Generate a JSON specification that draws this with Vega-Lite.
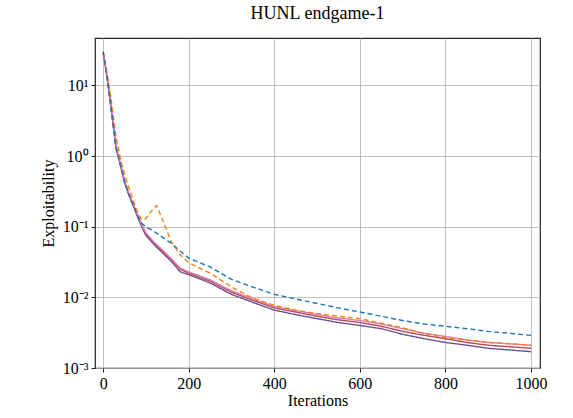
{
  "$schema": "https://vega.github.io/schema/vega-lite/v6.json",
  "width": 445,
  "height": 330,
  "padding": {"left": 40, "top": 5, "right": 5, "bottom": 5},
  "background": "white",
  "title": {"text": "HUNL endgame-1", "font": "Liberation Serif", "fontSize": 18, "fontWeight": "normal", "color": "#000", "offset": 15},
  "config": {
    "view": {"stroke": "#222", "strokeWidth": 1.2},
    "font": "Liberation Serif"
  },
  "datasets": {
    "d": [
      {"it":0,"s":"purple","v":30},{"it":10,"s":"purple","v":12},{"it":20,"s":"purple","v":4},{"it":30,"s":"purple","v":1.3},{"it":40,"s":"purple","v":0.75},{"it":50,"s":"purple","v":0.42},{"it":60,"s":"purple","v":0.28},{"it":70,"s":"purple","v":0.2},{"it":80,"s":"purple","v":0.14},{"it":90,"s":"purple","v":0.1},{"it":100,"s":"purple","v":0.075},{"it":120,"s":"purple","v":0.055},{"it":140,"s":"purple","v":0.042},{"it":160,"s":"purple","v":0.032},{"it":180,"s":"purple","v":0.023},{"it":200,"s":"purple","v":0.021},{"it":250,"s":"purple","v":0.016},{"it":300,"s":"purple","v":0.011},{"it":350,"s":"purple","v":0.0085},{"it":400,"s":"purple","v":0.0066},{"it":450,"s":"purple","v":0.0057},{"it":500,"s":"purple","v":0.005},{"it":550,"s":"purple","v":0.0044},{"it":600,"s":"purple","v":0.004},{"it":650,"s":"purple","v":0.0036},{"it":700,"s":"purple","v":0.003},{"it":750,"s":"purple","v":0.0026},{"it":800,"s":"purple","v":0.0023},{"it":850,"s":"purple","v":0.0021},{"it":900,"s":"purple","v":0.0019},{"it":950,"s":"purple","v":0.0018},{"it":1000,"s":"purple","v":0.0017},
      {"it":0,"s":"red","v":30},{"it":10,"s":"red","v":12.5},{"it":20,"s":"red","v":4.2},{"it":30,"s":"red","v":1.35},{"it":40,"s":"red","v":0.78},{"it":50,"s":"red","v":0.44},{"it":60,"s":"red","v":0.29},{"it":70,"s":"red","v":0.21},{"it":80,"s":"red","v":0.145},{"it":90,"s":"red","v":0.105},{"it":100,"s":"red","v":0.079},{"it":120,"s":"red","v":0.058},{"it":140,"s":"red","v":0.044},{"it":160,"s":"red","v":0.034},{"it":180,"s":"red","v":0.025},{"it":200,"s":"red","v":0.022},{"it":250,"s":"red","v":0.017},{"it":300,"s":"red","v":0.0118},{"it":350,"s":"red","v":0.0091},{"it":400,"s":"red","v":0.0071},{"it":450,"s":"red","v":0.0062},{"it":500,"s":"red","v":0.0054},{"it":550,"s":"red","v":0.0048},{"it":600,"s":"red","v":0.0044},{"it":650,"s":"red","v":0.0039},{"it":700,"s":"red","v":0.0033},{"it":750,"s":"red","v":0.0029},{"it":800,"s":"red","v":0.0026},{"it":850,"s":"red","v":0.0023},{"it":900,"s":"red","v":0.0021},{"it":950,"s":"red","v":0.002},{"it":1000,"s":"red","v":0.0019},
      {"it":0,"s":"pink","v":30},{"it":10,"s":"pink","v":12.8},{"it":20,"s":"pink","v":4.3},{"it":30,"s":"pink","v":1.4},{"it":40,"s":"pink","v":0.8},{"it":50,"s":"pink","v":0.45},{"it":60,"s":"pink","v":0.3},{"it":70,"s":"pink","v":0.215},{"it":80,"s":"pink","v":0.15},{"it":90,"s":"pink","v":0.108},{"it":100,"s":"pink","v":0.082},{"it":120,"s":"pink","v":0.06},{"it":140,"s":"pink","v":0.046},{"it":160,"s":"pink","v":0.035},{"it":180,"s":"pink","v":0.026},{"it":200,"s":"pink","v":0.023},{"it":250,"s":"pink","v":0.0178},{"it":300,"s":"pink","v":0.0124},{"it":350,"s":"pink","v":0.0095},{"it":400,"s":"pink","v":0.0074},{"it":450,"s":"pink","v":0.0065},{"it":500,"s":"pink","v":0.0057},{"it":550,"s":"pink","v":0.0051},{"it":600,"s":"pink","v":0.0047},{"it":650,"s":"pink","v":0.0042},{"it":700,"s":"pink","v":0.0036},{"it":750,"s":"pink","v":0.0031},{"it":800,"s":"pink","v":0.0028},{"it":850,"s":"pink","v":0.0025},{"it":900,"s":"pink","v":0.0023},{"it":950,"s":"pink","v":0.0022},{"it":1000,"s":"pink","v":0.0021},
      {"it":0,"s":"orange","v":30},{"it":10,"s":"orange","v":14},{"it":20,"s":"orange","v":5.5},{"it":30,"s":"orange","v":1.9},{"it":40,"s":"orange","v":0.95},{"it":50,"s":"orange","v":0.55},{"it":60,"s":"orange","v":0.36},{"it":70,"s":"orange","v":0.24},{"it":80,"s":"orange","v":0.165},{"it":90,"s":"orange","v":0.125},{"it":100,"s":"orange","v":0.13},{"it":110,"s":"orange","v":0.16},{"it":125,"s":"orange","v":0.2},{"it":140,"s":"orange","v":0.12},{"it":160,"s":"orange","v":0.06},{"it":180,"s":"orange","v":0.04},{"it":200,"s":"orange","v":0.031},{"it":250,"s":"orange","v":0.022},{"it":300,"s":"orange","v":0.014},{"it":350,"s":"orange","v":0.0097},{"it":400,"s":"orange","v":0.0077},{"it":450,"s":"orange","v":0.0066},{"it":500,"s":"orange","v":0.0059},{"it":550,"s":"orange","v":0.0054},{"it":600,"s":"orange","v":0.005},{"it":650,"s":"orange","v":0.0043},{"it":700,"s":"orange","v":0.0037},{"it":750,"s":"orange","v":0.0031},{"it":800,"s":"orange","v":0.0027},{"it":850,"s":"orange","v":0.0025},{"it":900,"s":"orange","v":0.0023},{"it":950,"s":"orange","v":0.0022},{"it":1000,"s":"orange","v":0.0021},
      {"it":0,"s":"blue","v":30},{"it":10,"s":"blue","v":12},{"it":20,"s":"blue","v":4.2},{"it":30,"s":"blue","v":1.35},{"it":40,"s":"blue","v":0.77},{"it":50,"s":"blue","v":0.44},{"it":60,"s":"blue","v":0.29},{"it":70,"s":"blue","v":0.205},{"it":80,"s":"blue","v":0.145},{"it":90,"s":"blue","v":0.112},{"it":100,"s":"blue","v":0.1},{"it":120,"s":"blue","v":0.085},{"it":140,"s":"blue","v":0.07},{"it":160,"s":"blue","v":0.058},{"it":180,"s":"blue","v":0.045},{"it":200,"s":"blue","v":0.036},{"it":250,"s":"blue","v":0.027},{"it":300,"s":"blue","v":0.018},{"it":350,"s":"blue","v":0.014},{"it":400,"s":"blue","v":0.011},{"it":450,"s":"blue","v":0.0095},{"it":500,"s":"blue","v":0.0082},{"it":550,"s":"blue","v":0.0071},{"it":600,"s":"blue","v":0.0062},{"it":650,"s":"blue","v":0.0054},{"it":700,"s":"blue","v":0.0047},{"it":750,"s":"blue","v":0.0042},{"it":800,"s":"blue","v":0.0039},{"it":850,"s":"blue","v":0.0036},{"it":900,"s":"blue","v":0.0033},{"it":950,"s":"blue","v":0.0031},{"it":1000,"s":"blue","v":0.0029}
    ]
  },
  "data": {"name": "d"},
  "mark": {"type": "line", "strokeWidth": 1.4, "clip": true},
  "encoding": {
    "x": {
      "field": "it", "type": "quantitative",
      "scale": {"domain": [-19, 1021], "nice": false, "zero": false},
      "axis": {"values": [0,200,400,600,800,1000], "format": "d", "title": "Iterations", "titleFont": "Liberation Serif", "titleFontSize": 16, "titleFontWeight": "normal", "titleColor": "#000", "titlePadding": 1, "labelFont": "Liberation Serif", "labelFontSize": 16, "labelColor": "#000", "gridColor": "#b0b0b0", "gridWidth": 0.8, "tickColor": "#222", "tickSize": 4, "domain": false, "labelPadding": 3}
    },
    "y": {
      "field": "v", "type": "quantitative",
      "scale": {"type": "log", "domain": [0.001, 47], "nice": false},
      "axis": {"values": [0.001,0.01,0.1,1,10], "title": "Exploitability", "titleFont": "Liberation Serif", "titleFontSize": 16, "titleFontWeight": "normal", "titleColor": "#000", "titlePadding": 6, "labelFont": "Liberation Serif", "labelFontSize": 16, "labelColor": "#000", "gridColor": "#b0b0b0", "gridWidth": 0.8, "tickColor": "#222", "tickSize": 4, "domain": false, "labelPadding": 3,
        "labelExpr": "datum.value >= 5 ? '10¹' : datum.value >= 0.5 ? '10⁰' : datum.value >= 0.05 ? '10⁻¹' : datum.value >= 0.005 ? '10⁻²' : '10⁻³'"}
    },
    "color": {
      "field": "s", "type": "nominal", "legend": null,
      "scale": {"domain": ["purple","red","pink","orange","blue"], "range": ["#6f4f8f","#b5485a","#d67fb8","#ff7f0e","#1f77b4"]}
    },
    "strokeDash": {
      "field": "s", "type": "nominal", "legend": null,
      "scale": {"domain": ["purple","red","pink","orange","blue"], "range": [[1,0],[1,0],[1,0],[5,3],[5,3]]}
    },
    "order": {"field": "it", "type": "quantitative"}
  }
}
